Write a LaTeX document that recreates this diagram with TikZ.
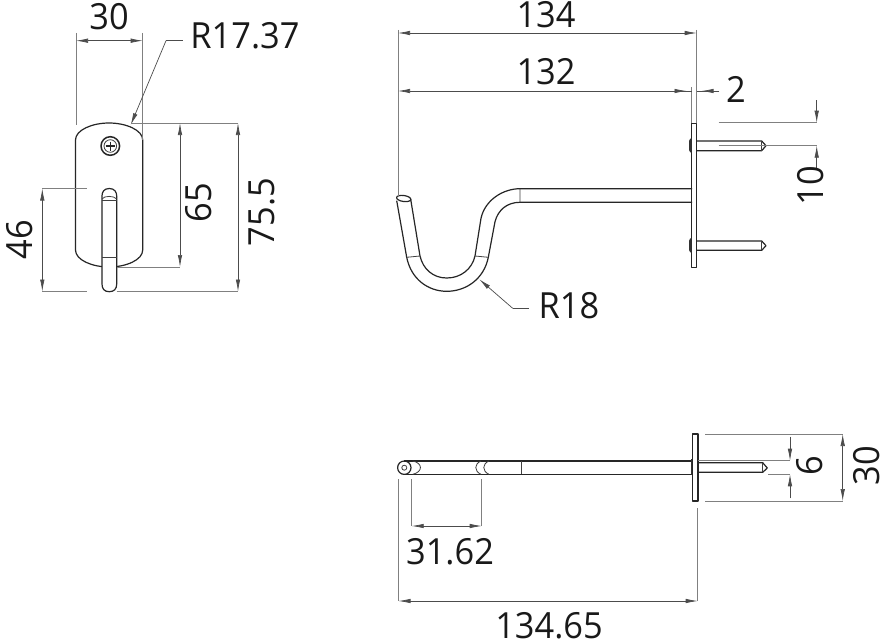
\documentclass[tikz,border=0pt]{standalone}
\usepackage{fontspec}
\setmainfont[FakeStretch=0.955]{Open Sans}
\usetikzlibrary{arrows.meta}
\tikzset{
  part/.style={draw=black!85,line width=1.2pt,line join=round},
  thinpart/.style={draw=black!75,line width=0.8pt},
  dimline/.style={draw=black!70,line width=0.7pt},
  extline/.style={draw=black!50,line width=0.7pt},
  tipend/.style={-{Latex[length=12pt,width=4.5pt]}},
  tipboth/.style={{Latex[length=12pt,width=4.5pt]}-{Latex[length=12pt,width=4.5pt]}},
  dimtext/.style={inner sep=0pt,text=black!90,font=\fontsize{36}{40}\selectfont},
}
\begin{document}
\begin{tikzpicture}[x=1pt,y=-1pt]
\useasboundingbox[fill=white] (0,0) rectangle (883,642);

% ---------- front view ----------
\draw[part] (75.5,140) .. controls (75.5,130) and (92,123) .. (109,123) .. controls (126,123) and (142.7,130) .. (142.7,140)
  -- (142.7,250) .. controls (142.7,260) and (126,267) .. (109,267) .. controls (92,267) and (75.5,260) .. (75.5,250) -- cycle;
\draw[part,line width=1.5pt] (110.3,146) circle (9.3);
\draw[thinpart] (110.3,146) circle (6.3);
\draw[part] (105.5,146) -- (115,146) (110.3,141.5) -- (110.3,150.5);
\fill[white] (102,196) rectangle (116.7,270);
\draw[part] (102,196) .. controls (102,192) and (104,188.5) .. (109.3,188.5) .. controls (114.5,188.5) and (116.7,192) .. (116.7,196)
  -- (116.7,284) .. controls (116.7,289) and (114,291.7) .. (109.3,291.7) .. controls (104.5,291.7) and (102,289) .. (102,284) -- cycle;
\draw[thinpart] (102,199) .. controls (104,195.5) and (114,195.5) .. (116.7,199);
\draw[thinpart] (102,200.5) -- (116.7,200.5);
\draw[thinpart] (102,257.5) -- (116.7,257.5);

\draw[extline] (76,33) -- (76,125) (142.7,33) -- (142.7,140);
\draw[dimline,tipboth] (76,40.7) -- (142.7,40.7);
\node[dimtext] (t30a) at (109,17) {30};

\draw[dimline] (182.7,40.7) -- (166,40.7);
\draw[dimline,tipend] (166,40.7) -- (130.7,125);
\node[dimtext] (tr17) at (245,35.5) {R17.37};

\draw[extline] (131,123) -- (238,123) (116.7,267) -- (180,267) (116.7,291.5) -- (238,291.5);
\draw[dimline,tipboth] (180,123) -- (180,267);
\draw[dimline,tipboth] (238,123) -- (238,291.5);
\node[dimtext,rotate=90] (t65) at (199,203) {65};
\node[dimtext,rotate=90] (t755) at (262,212) {75.5};

\draw[extline] (42.3,188.5) -- (87,188.5) (42.3,291.5) -- (87,291.5);
\draw[dimline,tipboth] (42.3,188.5) -- (42.3,291.5);
\node[dimtext,rotate=90] (t46) at (20,240) {46};

% ---------- side view ----------
\draw[part] (396.7,200.7) -- (406.7,257.3)
  .. controls (411,279) and (428,291.3) .. (446.7,291.3)
  .. controls (466,291.3) and (484,279) .. (488.3,257.3)
  -- (495,221.7) .. controls (498,210) and (507,202.3) .. (520,202.3) -- (692,202.3);
\draw[part] (410.7,199.3) -- (420,256)
  .. controls (423,269) and (433,278) .. (446.7,278)
  .. controls (461,278) and (472,269) .. (475,256)
  -- (481,218.3) .. controls (485,200) and (503,188.7) .. (520,188.7) -- (692,188.7);
\draw[part,rotate around={-8:(403.7,198.5)}] (403.7,198.5) ellipse (7.2 and 3);
\draw[thinpart] (406.7,257.3) -- (420,256) (475,256) -- (488.3,257.3) (520,188.7) -- (520,202.3);
\draw[part] (691.7,123.3) rectangle (696.7,267.7);
% upper screw
\fill[black!80] (691.7,138) -- (690,139) -- (689,141) -- (689,150) -- (690,152) -- (691.7,153) -- cycle;
\draw[part] (696.7,141) -- (761.7,141) -- (766,145.7) -- (761.7,150.7) -- (696.7,150.7);
\draw[thinpart] (761.7,141) -- (761.7,150.7);
% lower screw
\fill[black!80] (691.7,237.7) -- (690,238.7) -- (689,241) -- (689,250) -- (690,252) -- (691.7,253) -- cycle;
\draw[part] (696.7,241) -- (761.7,241) -- (766,245.7) -- (761.7,250.3) -- (696.7,250.3);
\draw[thinpart] (761.7,241) -- (761.7,250.3);

\draw[extline] (398,30) -- (398,197) (696.7,30) -- (696.7,123);
\draw[dimline,tipboth] (398,33) -- (696.7,33);
\node[dimtext] (t134) at (546,15) {134};
\draw[extline] (691.7,87) -- (691.7,123);
\draw[dimline,{Latex[length=12pt,width=4.5pt]}-] (398,91) -- (691.7,91);
\draw[dimline,tipend] (660,91) -- (686.5,91);
\draw[dimline] (719,91) -- (696.7,91);
\draw[dimline,tipend] (719,91) -- (701.5,91);
\node[dimtext] (t132) at (546,72) {132};
\node[dimtext] (t2) at (736,89) {2};

\draw[dimline] (529,308.3) -- (512.7,308.3);
\draw[dimline,tipend] (512.7,308.3) -- (479.3,279.3);
\node[dimtext] (tr18) at (569,306) {R18};

\draw[extline] (718.7,122.7) -- (816.7,122.7) (718.7,145.7) -- (816.7,145.7);
\draw[dimline,tipend] (816.7,100) -- (816.7,122.7);
\draw[dimline,tipend] (816.7,170) -- (816.7,145.7);
\node[dimtext,rotate=90] (t10) at (811,186) {10};

% ---------- bottom view ----------
\draw[part] (404.3,461) -- (692,461) (404.3,474.3) -- (692,474.3);
\fill[white] (398,462) rectangle (411,473.5);
\draw[part] (404.3,467.7) circle (6.7);
\draw[thinpart] (404.3,467.7) circle (2.5);
\draw[thinpart] (412.7,461) .. controls (423,463) and (423,472) .. (412.7,474.3);
\draw[thinpart] (481,461) .. controls (474,464) and (474,471) .. (481,474.3);
\draw[thinpart] (489,461) .. controls (482,464) and (482,471) .. (489,474.3);
\draw[thinpart] (521.7,461) -- (521.7,474.3);
\fill[black!80] (690.7,459) rectangle (693,475);
\draw[part] (692.7,434) rectangle (698,501);
\draw[part] (698,462.7) -- (762.7,462.7) -- (767.3,468) -- (762.7,472.3) -- (698,472.3);
\draw[thinpart] (762.7,462.7) -- (762.7,472.3);

\draw[extline] (705,434) -- (842.7,434) (705,501) -- (842.7,501);
\draw[dimline,tipboth] (842.7,434) -- (842.7,501);
\node[dimtext,rotate=90] (t30b) at (867,466) {30};

\draw[extline] (698,460.7) -- (790,460.7) (768,474.3) -- (790,474.3);
\draw[dimline,tipend] (790,436.7) -- (790,460.7);
\draw[dimline,tipend] (790,498.3) -- (790,474.3);
\node[dimtext,rotate=90] (t6) at (809.5,466) {6};

\draw[extline] (411.7,479) -- (411.7,526) (481.7,479) -- (481.7,526);
\draw[dimline,tipboth] (411.7,526) -- (481.7,526);
\node[dimtext] (t3162) at (450,551.5) {31.62};

\draw[extline] (398.5,479) -- (398.5,601) (697.7,508) -- (697.7,601);
\draw[dimline,tipboth] (398.5,601) -- (697.7,601);
\node[dimtext] (t13465) at (549,626) {134.65};
\end{tikzpicture}
\end{document}
